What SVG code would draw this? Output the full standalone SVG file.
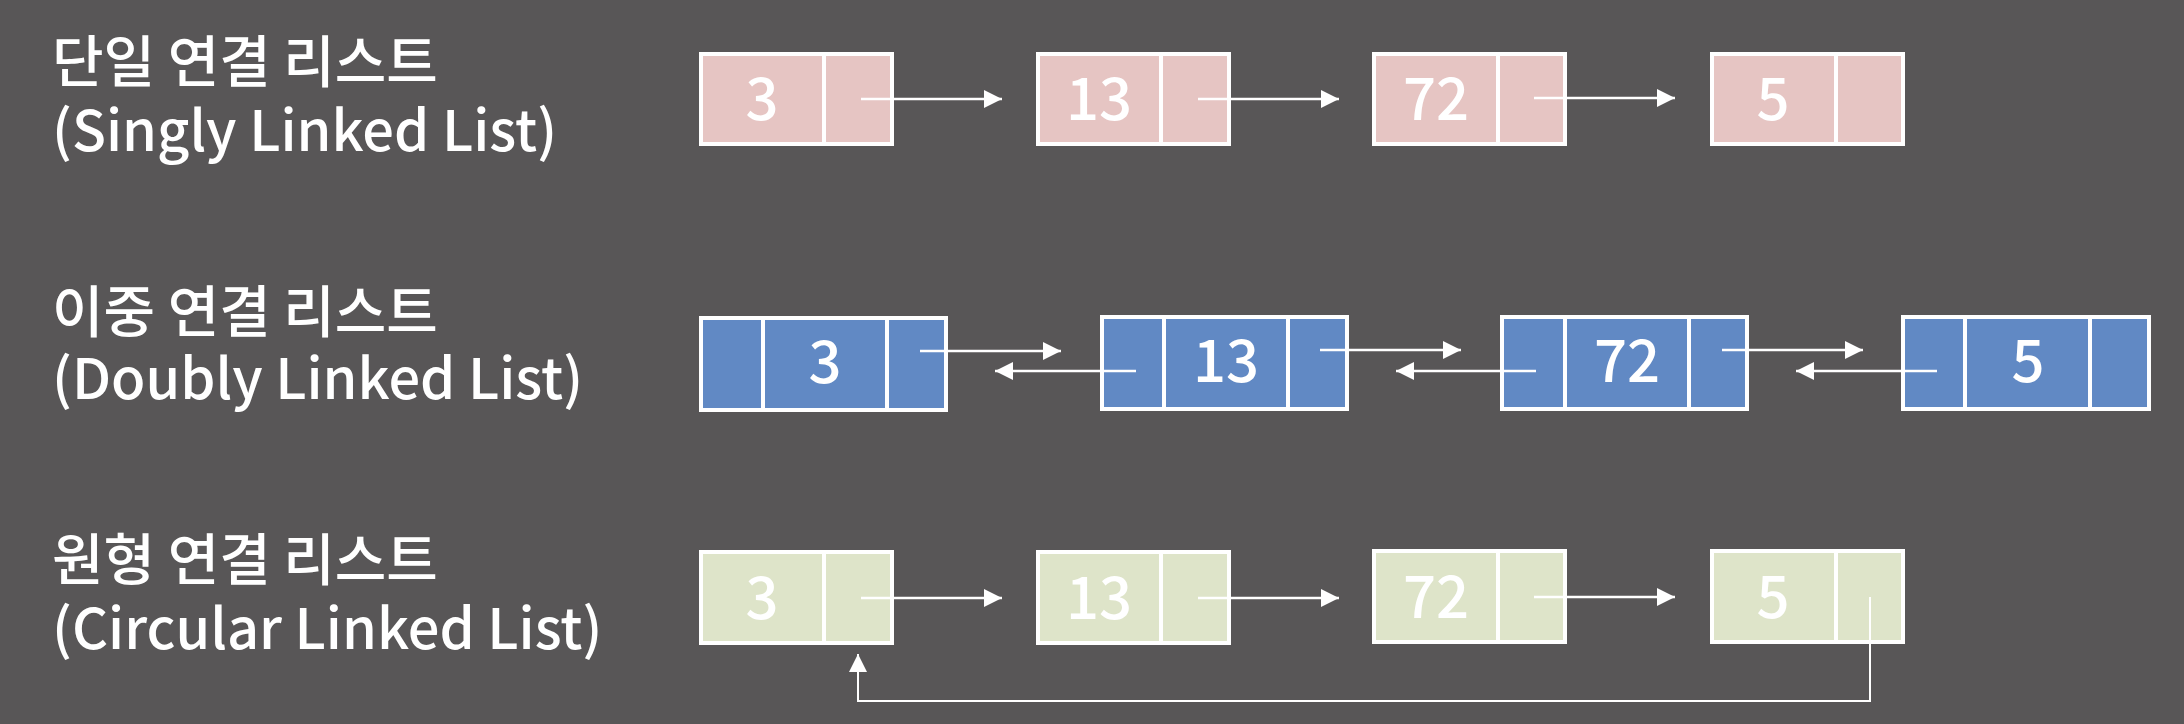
<svg xmlns="http://www.w3.org/2000/svg" width="2184" height="724" viewBox="0 0 2184 724">
<defs>
<marker id="ah" markerUnits="userSpaceOnUse" markerWidth="18" markerHeight="18" refX="18" refY="9" orient="auto">
<path d="M0,0 L18,9 L0,18 Z" fill="#ffffff"/>
</marker>
</defs>
<style>
.title{font-family:"Noto Sans CJK KR","Noto Sans",sans-serif;font-size:56px;font-weight:500;fill:#ffffff}
.num{font-family:"Noto Sans CJK KR","Noto Sans",sans-serif;font-size:58px;font-weight:500;fill:#ffffff;text-anchor:middle}
.box{stroke:#ffffff;stroke-width:4}
.div{stroke:#ffffff;stroke-width:4}
.s{fill:#e6c5c3}
.d{fill:#6189c4}
.c{fill:#dee4c9}
.arr{stroke:#ffffff;stroke-width:2.5;fill:none;marker-end:url(#ah)}
.ret{stroke:#ffffff;stroke-width:2;fill:none;marker-end:url(#ah)}
</style>
<rect x="0" y="0" width="2184" height="724" fill="#585657"/>

<g id="title-singly"><text class="title"><tspan x="52" y="82">단일 연결 리스트</tspan><tspan x="52" y="151">(Singly Linked List)</tspan></text></g>
<g id="title-doubly"><text class="title"><tspan x="52" y="332">이중 연결 리스트</tspan><tspan x="52" y="399">(Doubly Linked List)</tspan></text></g>
<g id="title-circular"><text class="title"><tspan x="52" y="580">원형 연결 리스트</tspan><tspan x="52" y="649">(Circular Linked List)</tspan></text></g>

<!-- Singly linked list -->
<g id="s1"><rect class="box s" x="701" y="54" width="191" height="90"/><line class="div" x1="824" y1="54" x2="824" y2="144"/><text class="num" x="762" y="120">3</text></g>
<g id="s2"><rect class="box s" x="1038" y="54" width="191" height="90"/><line class="div" x1="1161" y1="54" x2="1161" y2="144"/><text class="num" x="1099" y="120">13</text></g>
<g id="s3"><rect class="box s" x="1374" y="54" width="191" height="90"/><line class="div" x1="1498" y1="54" x2="1498" y2="144"/><text class="num" x="1436" y="120">72</text></g>
<g id="s4"><rect class="box s" x="1712" y="54" width="191" height="90"/><line class="div" x1="1836" y1="54" x2="1836" y2="144"/><text class="num" x="1773" y="120">5</text></g>

<!-- Doubly linked list -->
<g id="d1"><rect class="box d" x="701" y="318" width="245" height="92"/><line class="div" x1="763" y1="318" x2="763" y2="410"/><line class="div" x1="887" y1="318" x2="887" y2="410"/><text class="num" x="825" y="383">3</text></g>
<g id="d2"><rect class="box d" x="1102" y="317" width="245" height="92"/><line class="div" x1="1164" y1="317" x2="1164" y2="409"/><line class="div" x1="1288" y1="317" x2="1288" y2="409"/><text class="num" x="1226" y="382">13</text></g>
<g id="d3"><rect class="box d" x="1502" y="317" width="245" height="92"/><line class="div" x1="1565" y1="317" x2="1565" y2="409"/><line class="div" x1="1689" y1="317" x2="1689" y2="409"/><text class="num" x="1627" y="382">72</text></g>
<g id="d4"><rect class="box d" x="1903" y="317" width="246" height="92"/><line class="div" x1="1965" y1="317" x2="1965" y2="409"/><line class="div" x1="2090" y1="317" x2="2090" y2="409"/><text class="num" x="2028" y="382">5</text></g>

<!-- Circular linked list -->
<g id="c1"><rect class="box c" x="701" y="552" width="191" height="91"/><line class="div" x1="824" y1="552" x2="824" y2="643"/><text class="num" x="762" y="619">3</text></g>
<g id="c2"><rect class="box c" x="1038" y="552" width="191" height="91"/><line class="div" x1="1161" y1="552" x2="1161" y2="643"/><text class="num" x="1099" y="619">13</text></g>
<g id="c3"><rect class="box c" x="1374" y="551" width="191" height="91"/><line class="div" x1="1498" y1="551" x2="1498" y2="642"/><text class="num" x="1436" y="618">72</text></g>
<g id="c4"><rect class="box c" x="1712" y="551" width="191" height="91"/><line class="div" x1="1836" y1="551" x2="1836" y2="642"/><text class="num" x="1773" y="618">5</text></g>

<g id="connectors">
<line class="arr" x1="861" y1="99" x2="1002" y2="99"/>
<line class="arr" x1="1198" y1="99" x2="1339" y2="99"/>
<line class="arr" x1="1534" y1="98" x2="1675" y2="98"/>

<line class="arr" x1="920" y1="351" x2="1061" y2="351"/>
<line class="arr" x1="1136" y1="371" x2="995" y2="371"/>
<line class="arr" x1="1320" y1="350" x2="1461" y2="350"/>
<line class="arr" x1="1536" y1="371" x2="1396" y2="371"/>
<line class="arr" x1="1722" y1="350" x2="1863" y2="350"/>
<line class="arr" x1="1937" y1="371" x2="1796" y2="371"/>

<line class="arr" x1="861" y1="598" x2="1002" y2="598"/>
<line class="arr" x1="1198" y1="598" x2="1339" y2="598"/>
<line class="arr" x1="1534" y1="597" x2="1675" y2="597"/>
<path class="ret" d="M1870,597 L1870,701 L858,701 L858,654"/>
</g>
</svg>
